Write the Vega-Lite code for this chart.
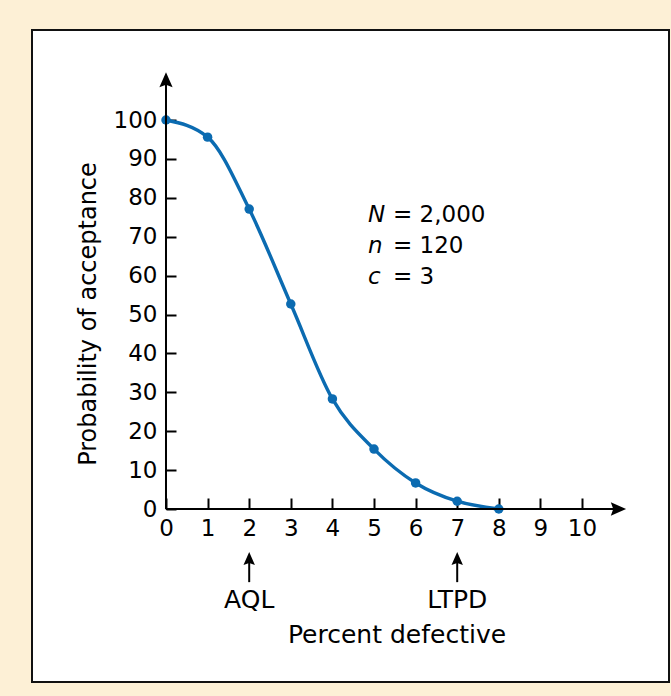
{
  "$schema": "https://vega.github.io/schema/vega-lite/v6.json",
  "width": 671,
  "height": 696,
  "autosize": {"type": "fit", "contains": "padding"},
  "padding": {"left": 32, "top": 30, "right": 2, "bottom": 14},
  "background": "#fdf0d6",
  "config": {
    "view": {"stroke": "#111111", "strokeWidth": 2, "fill": "white"},
    "font": "DejaVu Sans"
  },
  "datasets": {
    "oc": [
      {"p": 0, "pa": 100},
      {"p": 1, "pa": 95.6},
      {"p": 2, "pa": 77.1},
      {"p": 3, "pa": 52.7},
      {"p": 4, "pa": 28.3},
      {"p": 5, "pa": 15.4},
      {"p": 6, "pa": 6.7},
      {"p": 7, "pa": 2.0},
      {"p": 8, "pa": 0}
    ],
    "marks": [
      {"p": 2, "label": "AQL"},
      {"p": 7, "label": "LTPD"}
    ],
    "one": [{}]
  },
  "layer": [
    {
      "data": {"name": "oc"},
      "mark": {"type": "line", "interpolate": "monotone", "color": "#0b6bb1", "strokeWidth": 3.4},
      "encoding": {
        "x": {
          "field": "p", "type": "quantitative",
          "scale": {"domain": [-3.221, 12.091], "nice": false, "zero": false},
          "axis": {
            "orient": "bottom", "offset": -173,
            "values": [0, 1, 2, 3, 4, 5, 6, 7, 8, 9, 10],
            "domain": false, "grid": false,
            "tickSize": -11, "tickWidth": 2, "tickColor": "black",
            "labelPadding": 19, "labelFont": "DejaVu Sans", "labelFontSize": 23,
            "labelColor": "black", "labelFlush": false, "labelOverlap": false,
            "title": "Percent defective", "titleFont": "DejaVu Sans", "titleFontSize": 25,
            "titleFontWeight": "normal", "titleColor": "black",
            "titleX": 364.5, "titleY": 133, "titleBaseline": "alphabetic", "titleAlign": "center"
          }
        },
        "y": {
          "field": "pa", "type": "quantitative",
          "scale": {"domain": [-44.47, 123.14], "nice": false, "zero": false},
          "axis": {
            "orient": "left", "offset": -134,
            "values": [0, 10, 20, 30, 40, 50, 60, 70, 80, 90, 100],
            "domain": false, "grid": false,
            "tickSize": -10, "tickWidth": 2, "tickColor": "black",
            "labelPadding": 19, "labelFont": "DejaVu Sans", "labelFontSize": 23,
            "labelColor": "black", "labelFlush": false, "labelOverlap": false,
            "title": "Probability of acceptance", "titleFont": "DejaVu Sans", "titleFontSize": 24,
            "titleFontWeight": "normal", "titleColor": "black",
            "titleAngle": 270, "titleX": -77.7, "titleY": 283.5,
            "titleBaseline": "middle", "titleAlign": "center"
          }
        }
      }
    },
    {
      "data": {"name": "oc"},
      "mark": {"type": "point", "filled": true, "size": 90, "color": "#0b6bb1", "opacity": 1},
      "encoding": {
        "x": {"field": "p", "type": "quantitative"},
        "y": {"field": "pa", "type": "quantitative"}
      }
    },
    {
      "data": {"name": "one"},
      "mark": {"type": "rule", "color": "black", "strokeWidth": 2},
      "encoding": {
        "x": {"datum": 0, "type": "quantitative"},
        "x2": {"datum": 10.8},
        "y": {"datum": 0, "type": "quantitative"}
      }
    },
    {
      "data": {"name": "one"},
      "mark": {"type": "rule", "color": "black", "strokeWidth": 2},
      "encoding": {
        "x": {"datum": 0, "type": "quantitative"},
        "y": {"datum": 0, "type": "quantitative"},
        "y2": {"datum": 110}
      }
    },
    {
      "data": {"name": "one"},
      "mark": {"type": "point", "filled": true, "opacity": 1, "color": "black", "strokeWidth": 0, "size": 576, "shape": "M0,0L0.55,1.25L0,1.05L-0.55,1.25Z"},
      "encoding": {
        "x": {"datum": 0, "type": "quantitative"},
        "y": {"datum": 112.3, "type": "quantitative"}
      }
    },
    {
      "data": {"name": "one"},
      "mark": {"type": "point", "filled": true, "opacity": 1, "color": "black", "strokeWidth": 0, "size": 600, "shape": "M0,0L-1.25,-0.55L-1.05,0L-1.25,0.55Z"},
      "encoding": {
        "x": {"datum": 11.06, "type": "quantitative"},
        "y": {"datum": 0, "type": "quantitative"}
      }
    },
    {
      "data": {"name": "marks"},
      "mark": {"type": "rule", "color": "black", "strokeWidth": 2},
      "encoding": {
        "x": {"field": "p", "type": "quantitative"},
        "y": {"datum": -18.8, "type": "quantitative"},
        "y2": {"datum": -12.5}
      }
    },
    {
      "data": {"name": "marks"},
      "mark": {"type": "point", "filled": true, "opacity": 1, "color": "black", "strokeWidth": 0, "size": 430, "shape": "M0,0L0.55,1.25L0,1.05L-0.55,1.25Z"},
      "encoding": {
        "x": {"field": "p", "type": "quantitative"},
        "y": {"datum": -11.05, "type": "quantitative"}
      }
    },
    {
      "data": {"name": "marks"},
      "mark": {"type": "text", "font": "DejaVu Sans", "fontSize": 25, "color": "black", "align": "center", "baseline": "alphabetic"},
      "encoding": {
        "x": {"field": "p", "type": "quantitative"},
        "y": {"datum": -25.4, "type": "quantitative"},
        "text": {"field": "label"}
      }
    },
    {
      "data": {"name": "one"},
      "mark": {"type": "text", "font": "DejaVu Sans", "fontSize": 23, "fontStyle": "italic", "color": "black", "align": "left", "baseline": "alphabetic", "lineHeight": 31},
      "encoding": {
        "x": {"datum": 4.856, "type": "quantitative"},
        "y": {"datum": 73.85, "type": "quantitative"},
        "text": {"value": ["N", "n", "c"]}
      }
    },
    {
      "data": {"name": "one"},
      "mark": {"type": "text", "font": "DejaVu Sans", "fontSize": 23, "color": "black", "align": "left", "baseline": "alphabetic", "lineHeight": 31},
      "encoding": {
        "x": {"datum": 5.457, "type": "quantitative"},
        "y": {"datum": 73.85, "type": "quantitative"},
        "text": {"value": ["= 2,000", "= 120", "= 3"]}
      }
    }
  ]
}
